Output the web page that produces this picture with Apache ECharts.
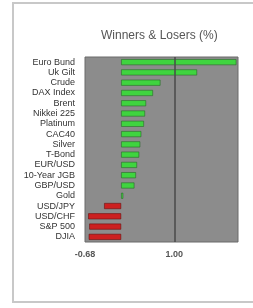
<!DOCTYPE html>
<html>
<head>
<meta charset="utf-8">
<script src="https://cdn.jsdelivr.net/npm/echarts@6/dist/echarts.min.js"></script>
<style>
    html, body { margin: 0; padding: 0; background: #ffffff; }
    #chart { width: 253px; height: 308px; }
</style>
</head>
<body>
<div id="chart"></div>
<script>
// categories, top to bottom
const markets = [
    "Euro Bund", "Uk Gilt", "Crude", "DAX Index", "Brent", "Nikkei 225",
    "Platinum", "CAC40", "Silver", "T-Bond", "EUR/USD", "10-Year JGB",
    "GBP/USD", "Gold", "USD/JPY", "USD/CHF", "S&P 500", "DJIA"
];
// % change
const changes = [
    2.17, 1.43, 0.74, 0.60, 0.47, 0.45,
    0.43, 0.38, 0.36, 0.34, 0.30, 0.28,
    0.25, 0.04, -0.32, -0.62, -0.60, -0.61
];
// x axis tick labels
const tickValues = [-0.68, 1.00];

const chart = echarts.init(document.getElementById("chart"));

const option = {
    animation: false,
    backgroundColor: "#ffffff",
    title: {
        text: "Winners & Losers (%)",
        left: 96,
        top: 25,
        textStyle: {
            color: "#555555",
            fontSize: 12,
            fontWeight: "normal",
            fontFamily: "Liberation Sans Narrow, Arial, sans-serif",
        },
    },
    // outer frame
    graphic: [{
        type: "rect",
        shape: { x: 13, y: 3, width: 260, height: 299 },
        style: { fill: "none", stroke: "#c8c8c8", lineWidth: 2 },
        silent: true,
    }],
    grid: {
        left: 85,
        right: 15,
        top: 57,
        bottom: 66,
        show: true,
        backgroundColor: "#8c8c8c",
        borderColor: "#6a6a6a",
        borderWidth: 1,
    },
    xAxis: {
        type: "value",
        min: -0.68,
        max: 2.2,
        axisLine: { show: false },
        axisTick: { show: false },
        splitLine: { show: false },
        axisLabel: {
            customValues: tickValues,
            formatter: (v) => v.toFixed(2),
            color: "#555555",
            fontSize: 9,
            fontWeight: "bold",
            margin: 8,
        },
    },
    yAxis: {
        type: "category",
        data: markets,
        inverse: true,
        axisLine: { show: false },
        axisTick: { show: false },
        axisLabel: {
            color: "#333333",
            fontSize: 9,
            margin: 10,
            interval: 0,
        },
    },
    series: [{
        type: "bar",
        data: changes.map((v) => ({
            value: v,
            itemStyle: {
                color: v >= 0 ? "#3fd43f" : "#cc2020",
                borderColor: v >= 0 ? "#2a6a2a" : "#6a1010",
            },
        })),
        barWidth: 6,
        itemStyle: { borderWidth: 0.6 },
        markLine: {
            silent: true,
            symbol: "none",
            label: { show: false },
            lineStyle: { color: "#4a4a4a", type: "solid", width: 1.5 },
            data: [{ xAxis: 1.0 }],
        },
    }],
};

chart.setOption(option);
</script>
</body>
</html>
